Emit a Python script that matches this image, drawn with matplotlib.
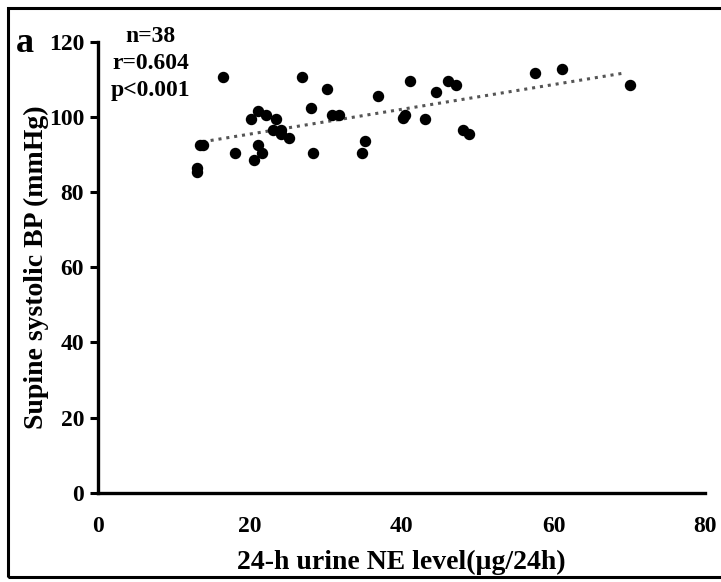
import numpy as np
import matplotlib.pyplot as plt
from matplotlib.patches import Rectangle

plt.rcParams['font.family'] = ['Liberation Serif', 'DejaVu Serif']
plt.rcParams['font.weight'] = 'bold'

# 24-h urine NE (ug/24h) vs supine systolic BP (mmHg)
ne_level = [13.0, 13.0, 13.4, 13.8, 16.5, 18.0, 20.1, 20.5, 21.1, 21.1,
            21.6, 22.1, 23.1, 23.5, 24.1, 24.1, 25.1, 26.9, 28.1, 28.3,
            30.1, 30.8, 31.7, 34.8, 35.1, 36.9, 40.1, 40.4, 41.1, 43.1,
            44.5, 46.1, 47.1, 48.1, 48.9, 57.5, 61.1, 70.0]
sbp = [86.3, 85.4, 92.5, 92.5, 110.5, 90.4, 99.4, 88.5, 101.5, 92.5,
       90.4, 100.5, 96.5, 99.4, 96.5, 95.4, 94.5, 110.5, 102.4, 90.4,
       107.5, 100.5, 100.5, 90.4, 93.5, 105.6, 99.6, 100.5, 109.5, 99.4,
       106.5, 109.5, 108.6, 96.5, 95.4, 111.6, 112.6, 108.6]

x_ticks = [0, 20, 40, 60, 80]
y_ticks = [0, 20, 40, 60, 80, 100, 120]

x = np.array(ne_level)
y = np.array(sbp)
slope, intercept = np.polyfit(x, y, 1)
xf = np.array([x.min() + 0.8, x.max() - 0.6])

fig = plt.figure(figsize=(7.21, 5.82), dpi=100)
ax = fig.add_axes([0.1359, 0.1534, 0.8426, 0.775])

ax.plot(xf, slope * xf + intercept, linestyle=(0, (1, 1.6)), color='#555555', lw=2.2)
ax.scatter(x, y, s=52, color='black', zorder=3)

ax.set_xlim(0, 80)
ax.set_ylim(0, 120)
ax.set_xticks(x_ticks)
ax.set_yticks(y_ticks)
ax.spines['top'].set_visible(False)
ax.spines['right'].set_visible(False)
ax.spines['left'].set_linewidth(2.4)
ax.spines['bottom'].set_linewidth(2.4)
ax.tick_params(axis='x', length=0, pad=17, labelsize=17)
ax.tick_params(axis='y', length=6, width=2.2, pad=4, labelsize=17)
for lab in ax.get_xticklabels() + ax.get_yticklabels():
    lab.set_fontweight('bold')

ax.set_xlabel('24-h urine NE level(\u00b5g/24h)', fontsize=20, fontweight='bold', labelpad=9)
ax.set_ylabel('Supine systolic BP (mmHg)', fontsize=20, fontweight='bold')
ax.yaxis.set_label_coords(-0.08, 0.5)

ax.text(6.9, 114.2, 'n=38\nr=0.604\np<0.001', ha='center', va='center',
        fontsize=17, fontweight='bold', linespacing=1.4)
fig.text(0.022, 0.925, 'a', fontsize=26, fontweight='bold', ha='left', va='center')

fig.patches.append(Rectangle((0.011, 0.009), 1.0, 0.977, transform=fig.transFigure,
                             fill=False, edgecolor='black', lw=2.2))

fig.savefig('out.png', dpi=100)
